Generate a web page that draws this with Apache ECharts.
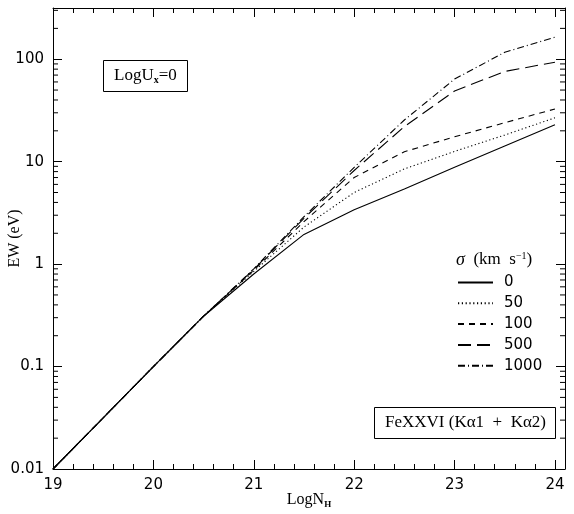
<!DOCTYPE html>
<html>
<head>
<meta charset="utf-8">
<script src="https://cdn.jsdelivr.net/npm/echarts@6/dist/echarts.min.js"></script>
<style>html,body{margin:0;padding:0;background:#fff}#c{width:574px;height:514px}</style>
</head>
<body>
<div id="c"></div>
<script>
// ---- data (EW in eV vs LogN_H) ----
var logNH = [19, 19.5, 20, 20.5, 21, 21.5, 22, 22.5, 23, 23.5, 24];
var ew_s0    = [0.01, 0.0316, 0.1, 0.31, 0.80, 1.95, 3.4, 5.4, 8.8, 14.2, 22.9];
var ew_s50   = [0.01, 0.0316, 0.1, 0.31, 0.85, 2.3, 5.0, 8.5, 12.6, 18.2, 26.8];
var ew_s100  = [0.01, 0.0316, 0.1, 0.31, 0.87, 2.6, 7.0, 12.5, 17.5, 24.0, 32.7];
var ew_s500  = [0.01, 0.0316, 0.1, 0.31, 0.89, 2.8, 8.2, 22.0, 49.0, 76.0, 93.5];
var ew_s1000 = [0.01, 0.0316, 0.1, 0.31, 0.90, 2.9, 8.8, 25.5, 64.0, 117.0, 164.0];
var sigmaNames = ['0', '50', '100', '500', '1000'];
var yTickLabels = ['0.01', '0.1', '1', '10', '100'];

var seriesData = [ew_s0, ew_s50, ew_s100, ew_s500, ew_s1000];
var dashes = ['solid', [1.2, 2.6], [6, 5], [13, 6], [7, 3, 1, 3]];

function toPairs(arr) {
  return arr.map(function (v, i) { return [logNH[i], Math.log10(v)]; });
}

// log minor tick positions (2..9 per decade)
var minorY = [];
for (var d = -2; d <= 2; d++) {
  for (var k = 2; k <= 9; k++) {
    var lv = Math.log10(k) + d;
    if (lv < 2.5) minorY.push([19, lv]);
  }
}

var chart = echarts.init(document.getElementById('c'), null, {renderer: 'canvas'});
var series = seriesData.map(function (arr, i) {
  return {
    name: sigmaNames[i],
    type: 'line',
    data: toPairs(arr),
    symbol: 'none',
    showSymbol: false,
    smooth: false,
    lineStyle: {color: '#000', width: 1.1, type: dashes[i]},
    itemStyle: {color: '#000'},
    silent: true,
    animation: false,
    z: 3
  };
});
series.push({
  type: 'custom',
  data: minorY,
  silent: true,
  animation: false,
  clip: false,
  renderItem: function (params, api) {
    var pL = api.coord([19, api.value(1)]);
    var pR = api.coord([24.1, api.value(1)]);
    return {
      type: 'group',
      children: [
        {type: 'line', shape: {x1: pL[0], y1: pL[1], x2: pL[0] + 5, y2: pL[1]}, style: {stroke: '#000', lineWidth: 1}},
        {type: 'line', shape: {x1: pR[0], y1: pR[1], x2: pR[0] - 5, y2: pR[1]}, style: {stroke: '#000', lineWidth: 1}}
      ]
    };
  }
});

var axisCommonX = {
  type: 'value', min: 19, max: 24.1, interval: 1,
  axisLine: {show: true, onZero: false, lineStyle: {color: '#000', width: 1}},
  axisTick: {show: true, inside: true, length: 9, lineStyle: {color: '#000'}},
  minorTick: {show: true, splitNumber: 5, length: 5, lineStyle: {color: '#000'}},
  splitLine: {show: false}
};
var axisCommonY = {
  type: 'value', min: -2, max: 2.5, interval: 1,
  axisLine: {show: true, onZero: false, lineStyle: {color: '#000', width: 1}},
  axisTick: {show: true, inside: true, length: 9, lineStyle: {color: '#000'}},
  splitLine: {show: false}
};

chart.setOption({
  animation: false,
  backgroundColor: '#fff',
  grid: {left: 53, right: 9, top: 8, bottom: 45, containLabel: false, outerBoundsMode: 'none'},
  title: [
    {
      text: 'LogU{sub|x}=0',
      left: 103, top: 59,
      padding: [7, 11, 7, 11],
      borderColor: '#000', borderWidth: 1,
      textStyle: {
        fontFamily: 'Liberation Serif', fontSize: 17, fontWeight: 'normal', color: '#000',
        rich: {sub: {fontFamily: 'Liberation Serif', fontSize: 10, fontWeight: 'bold', color: '#000', verticalAlign: 'bottom', padding: [9, 0, 0, 0]}}
      }
    },
    {
      text: 'FeXXVI (K\u03b11  +  K\u03b12)',
      left: 374, top: 407,
      padding: [7, 10, 8, 11],
      borderColor: '#000', borderWidth: 1,
      textStyle: {fontFamily: 'Liberation Serif', fontSize: 17, fontWeight: 'normal', color: '#000'}
    },
    {
      text: '{i|\u03c3}  (km  s{sup|\u22121})',
      left: 456, top: 251,
      padding: 0,
      textStyle: {
        fontFamily: 'Liberation Serif', fontSize: 17, fontWeight: 'normal', color: '#000',
        rich: {
          i: {fontFamily: 'Liberation Serif', fontStyle: 'italic', fontSize: 18, color: '#000'},
          sup: {fontFamily: 'Liberation Serif', fontSize: 10, color: '#000', verticalAlign: 'top', padding: [0, 0, 8, 0]}
        }
      }
    }
  ],
  legend: {
    data: sigmaNames,
    orient: 'vertical',
    left: 452, top: 270,
    itemWidth: 35, itemHeight: 14, itemGap: 5.8,
    selectedMode: false,
    itemStyle: {opacity: 0, borderWidth: 0},
    textStyle: {fontFamily: 'DejaVu Sans', fontSize: 15, color: '#000', padding: [0, 0, 0, 6]}
  },
  xAxis: [
    Object.assign({}, axisCommonX, {
      position: 'bottom',
      name: 'LogN{sub|H}', nameLocation: 'middle', nameGap: 22, nameMoveOverlap: false,
      nameTextStyle: {
        fontFamily: 'Liberation Serif', fontSize: 16, color: '#000',
        rich: {sub: {fontFamily: 'Liberation Serif', fontSize: 9, fontWeight: 'bold', color: '#000', verticalAlign: 'bottom', padding: [9, 0, 0, 0]}}
      },
      axisLabel: {show: true, margin: 9, showMaxLabel: false, fontFamily: 'DejaVu Sans', fontSize: 15, color: '#000',
        formatter: function (v) { return Math.abs(v - Math.round(v)) < 1e-9 ? String(Math.round(v)) : ''; }}
    }),
    Object.assign({}, axisCommonX, {position: 'top', axisLabel: {show: false}})
  ],
  yAxis: [
    Object.assign({}, axisCommonY, {
      position: 'left',
      name: 'EW (eV)', nameLocation: 'middle', nameGap: 30, nameRotate: 90, nameMoveOverlap: false,
      nameTextStyle: {fontFamily: 'Liberation Serif', fontSize: 16, color: '#000'},
      axisLabel: {show: true, margin: 9, showMaxLabel: false, fontFamily: 'DejaVu Sans', fontSize: 15, color: '#000',
        formatter: function (v) {
          var idx = Math.round(v) + 2;
          return (Math.abs(v - Math.round(v)) < 1e-9 && idx >= 0 && idx < yTickLabels.length) ? yTickLabels[idx] : '';
        }}
    }),
    Object.assign({}, axisCommonY, {position: 'right', axisLabel: {show: false}})
  ],
  series: series
});
</script>
</body>
</html>
